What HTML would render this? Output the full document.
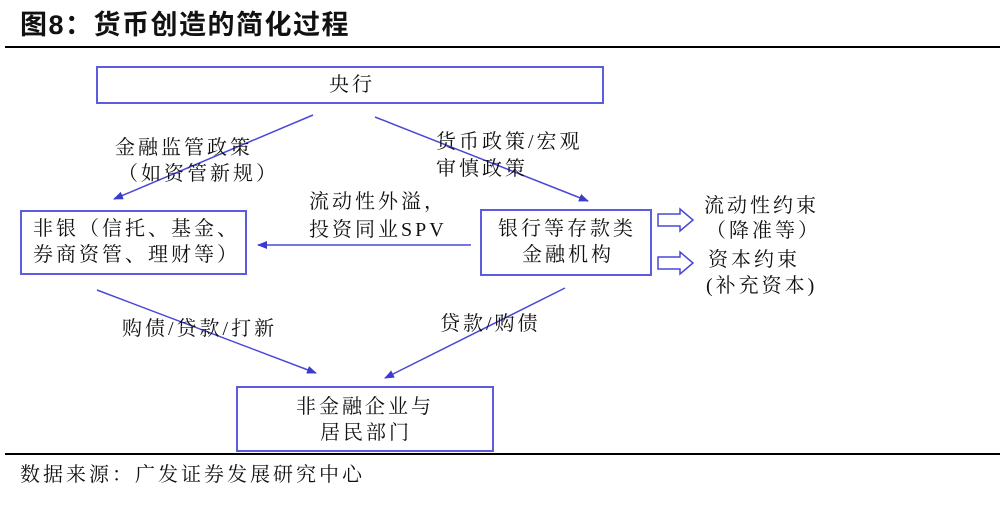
<!DOCTYPE html>
<html><head><meta charset="utf-8"><style>
body{margin:0;width:1005px;height:511px;background:#fff;position:relative;overflow:hidden;font-family:"Liberation Serif","Noto Serif CJK SC",serif;color:#111}
.t{position:absolute;white-space:nowrap;font-size:20px;line-height:26px;letter-spacing:3px}
.box{position:absolute;border:2px solid #5c5ce0;box-sizing:border-box}
</style></head><body>
<div class="t" style="left:20px;top:8px;font-size:27px;letter-spacing:1.5px;font-weight:bold;font-family:'Liberation Sans','Noto Sans CJK SC',sans-serif;line-height:34px">图8：货币创造的简化过程</div>
<div style="position:absolute;left:5px;top:46px;width:995px;height:1.5px;background:#000"></div>
<div style="position:absolute;left:5px;top:453px;width:995px;height:1.5px;background:#000"></div>
<div class="box" style="left:96px;top:66px;width:508px;height:38px"></div>
<div class="box" style="left:20px;top:210px;width:227px;height:65px"></div>
<div class="box" style="left:480px;top:209px;width:172px;height:67px"></div>
<div class="box" style="left:236px;top:386px;width:258px;height:66px"></div>
<svg width="1005" height="511" style="position:absolute;left:0;top:0">
<defs><marker id="a" markerWidth="10" markerHeight="8" refX="9" refY="4" orient="auto" markerUnits="userSpaceOnUse"><path d="M0,0L10,4L0,8z" fill="#3b3bd0"/></marker></defs>
<g stroke="#4848d8" stroke-width="1.5" fill="none">
<line x1="313" y1="115" x2="114" y2="199" marker-end="url(#a)"/>
<line x1="375" y1="117" x2="588" y2="201" marker-end="url(#a)"/>
<line x1="471" y1="245" x2="258" y2="245" marker-end="url(#a)"/>
<line x1="97" y1="290" x2="316" y2="373" marker-end="url(#a)"/>
<line x1="565" y1="288" x2="385" y2="378" marker-end="url(#a)"/>
<path d="M658,214h22v-5l13,11l-13,11v-5h-22z"/>
<path d="M658,257h22v-5l13,11l-13,11v-5h-22z"/>
</g></svg>
<div class="t" style="left:329px;top:72px">央行</div>
<div class="t" style="left:115px;top:135px">金融监管政策</div>
<div class="t" style="left:118px;top:161px">（如资管新规）</div>
<div class="t" style="left:436px;top:129px">货币政策/宏观</div>
<div class="t" style="left:436px;top:156px">审慎政策</div>
<div class="t" style="left:309px;top:189px">流动性外溢，</div>
<div class="t" style="left:309px;top:217px">投资同业SPV</div>
<div class="t" style="left:33px;top:216px">非银（信托、基金、</div>
<div class="t" style="left:33px;top:242px">券商资管、理财等）</div>
<div class="t" style="left:498px;top:216px">银行等存款类</div>
<div class="t" style="left:522px;top:242px">金融机构</div>
<div class="t" style="left:704px;top:193px">流动性约束</div>
<div class="t" style="left:706px;top:218px">（降准等）</div>
<div class="t" style="left:708px;top:247px">资本约束</div>
<div class="t" style="left:706px;top:273px">(补充资本)</div>
<div class="t" style="left:122px;top:316px">购债/贷款/打新</div>
<div class="t" style="left:440px;top:311px">贷款/购债</div>
<div class="t" style="left:296px;top:394px">非金融企业与</div>
<div class="t" style="left:320px;top:420px">居民部门</div>
<div class="t" style="left:20px;top:462px">数据来源：广发证券发展研究中心</div>
</body></html>
